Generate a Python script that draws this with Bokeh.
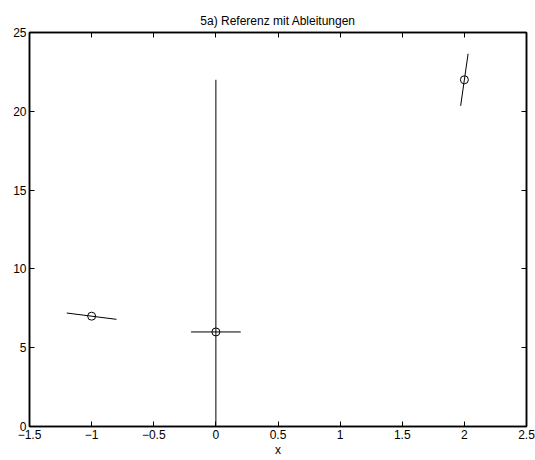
from bokeh.plotting import figure
from bokeh.models import Range1d, LinearAxis, FixedTicker, ColumnDataSource
from bokeh.embed import file_html
from bokeh.resources import INLINE

# Data
point_x = [-1.0, 0.0, 2.0]
point_y = [7.0, 6.0, 22.0]
slopes = [-1.0, 0.0, 55.0]
half_dx = [0.2, 0.2, 0.03]
vline_x = [0.0, 0.0]
vline_y = [0.0, 22.0]
x_ticks = [-1.5, -1, -0.5, 0, 0.5, 1, 1.5, 2, 2.5]
x_tick_labels = ["\u22121.5", "\u22121", "\u22120.5", "0", "0.5", "1", "1.5", "2", "2.5"]
y_ticks = [0, 5, 10, 15, 20, 25]
y_tick_labels = ["0", "5", "10", "15", "20", "25"]

FONT = "Liberation Sans"
FS = "12px"

p = figure(width=535, height=460, output_backend="svg", toolbar_location=None,
           x_range=Range1d(-1.5, 2.5), y_range=Range1d(0, 25),
           x_axis_location=None, y_axis_location=None,
           min_border_left=29, min_border_right=9, min_border_top=32, min_border_bottom=34)
p.grid.visible = False
p.outline_line_color = "black"
p.outline_line_width = 1.5
p.background_fill_color = "white"
p.border_fill_color = "white"

p.title.text = "5a) Referenz mit Ableitungen"
p.title.align = "center"
p.title.text_font = FONT
p.title.text_font_style = "normal"
p.title.text_font_size = FS
p.title.text_color = "black"
p.title.offset = 0
p.title.standoff = 9

def mk_axis(ticks, labels, label=""):
    ax = LinearAxis(ticker=FixedTicker(ticks=ticks),
                    major_label_overrides={t: l for t, l in zip(ticks, labels)})
    ax.major_tick_in = 5
    ax.major_tick_out = 0
    ax.minor_tick_in = 0
    ax.minor_tick_out = 0
    ax.axis_line_color = "black"
    ax.axis_line_width = 1.5
    ax.major_tick_line_color = "black"
    ax.major_label_text_font = FONT
    ax.major_label_text_font_size = FS
    ax.major_label_text_color = "black"
    ax.major_label_standoff = 3
    if label:
        ax.axis_label = label
        ax.axis_label_text_font = FONT
        ax.axis_label_text_font_style = "normal"
        ax.axis_label_text_font_size = FS
        ax.axis_label_text_color = "black"
        ax.axis_label_standoff = 1
    return ax

def mk_bare_axis(ticks):
    # ticks only (drawn as minor ticks), no labels
    ax = LinearAxis(ticker=FixedTicker(ticks=[], minor_ticks=ticks))
    ax.major_tick_in = 0
    ax.major_tick_out = 0
    ax.minor_tick_in = 5
    ax.minor_tick_out = 0
    ax.minor_tick_line_color = "black"
    ax.axis_line_color = "black"
    ax.axis_line_width = 1.5
    ax.major_label_standoff = 0
    return ax

p.add_layout(mk_axis(x_ticks, x_tick_labels, "x"), "below")
p.add_layout(mk_axis(y_ticks, y_tick_labels), "left")
p.add_layout(mk_bare_axis(x_ticks), "above")
p.add_layout(mk_bare_axis(y_ticks), "right")

# vertical line
p.line(vline_x, vline_y, line_color="black", line_width=1)

# derivative segments
x0 = [x - d for x, d in zip(point_x, half_dx)]
x1 = [x + d for x, d in zip(point_x, half_dx)]
y0 = [y - m * d for y, m, d in zip(point_y, slopes, half_dx)]
y1 = [y + m * d for y, m, d in zip(point_y, slopes, half_dx)]
seg = ColumnDataSource(dict(x0=x0, x1=x1, y0=y0, y1=y1))
p.segment(x0="x0", y0="y0", x1="x1", y1="y1", source=seg, line_color="black", line_width=1)

p.scatter(point_x, point_y, marker="circle", size=8, fill_color=None,
          line_color="black", line_width=1)

open("out.html", "w").write(file_html(p, INLINE))
